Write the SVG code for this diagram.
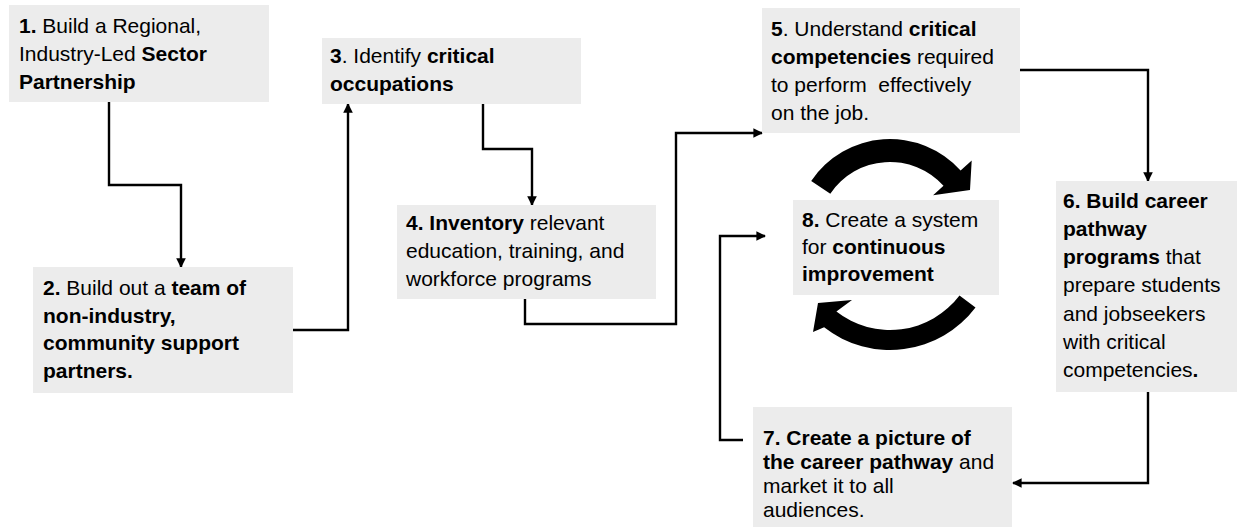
<svg xmlns="http://www.w3.org/2000/svg" width="1238" height="529" viewBox="0 0 1238 529">
<style>
.box{fill:#ececec;}
text{font-family:"Liberation Sans",Arial,sans-serif;font-size:21px;fill:#000;}
.b{font-weight:bold;}
.pre{white-space:pre;}
.c{fill:none;stroke:#000;stroke-width:2.4;}
.circ{fill:#000;}
</style>
<defs>
<marker id="ah" viewBox="0 0 10 10" refX="9" refY="5" markerWidth="4" markerHeight="4" markerUnits="strokeWidth" orient="auto">
<path d="M0,0 L10,5 L0,10 Z" fill="#000"/>
</marker>
</defs>
<g id="connectors">
<path class="c" d="M109,102 V185 H181 V267" marker-end="url(#ah)"/>
<path class="c" d="M293,330 H348 V104" marker-end="url(#ah)"/>
<path class="c" d="M483,104 V149 H532 V205" marker-end="url(#ah)"/>
<path class="c" d="M525,299 V324 H676 V133 H762" marker-end="url(#ah)"/>
<path class="c" d="M1020,70 H1148 V181" marker-end="url(#ah)"/>
<path class="c" d="M1148,392 V483 H1013" marker-end="url(#ah)"/>
<path class="c" d="M743,440 H720 V236 H765" marker-end="url(#ah)"/>
</g>
<g id="cycle">
<path class="circ" d="M811.2,180.9 A95,95 0 0 1 960.6,170.4 L971.7,160.4 L970,190 L933.1,195.2 L943.5,185.8 A72,72 0 0 0 830.3,193.7 Z"/>
<path class="circ" d="M975.5,307.4 A107,107 0 0 1 824.1,327.3 L813,332 L818,303 L852,300 L836.4,311.6 A87,87 0 0 0 959.5,295.4 Z"/>
</g>
<g id="node1">
<rect class="box" x="9" y="5" width="260" height="97"/>
<text x="19" y="33"><tspan class="b">1.</tspan> Build a Regional,</text>
<text x="19" y="61">Industry-Led <tspan class="b">Sector</tspan></text>
<text x="19" y="89" class="b">Partnership</text>
</g>
<g id="node2">
<rect class="box" x="33" y="267" width="260" height="126"/>
<text x="43" y="295"><tspan class="b">2.</tspan> Build out a <tspan class="b">team of</tspan></text>
<text x="43" y="322.5" class="b">non-industry,</text>
<text x="43" y="350" class="b">community support</text>
<text x="43" y="377.5" class="b">partners.</text>
</g>
<g id="node3">
<rect class="box" x="322" y="38" width="259" height="66"/>
<text x="330" y="63"><tspan class="b">3</tspan>. Identify <tspan class="b">critical</tspan></text>
<text x="330" y="91" class="b">occupations</text>
</g>
<g id="node4">
<rect class="box" x="397" y="205" width="259" height="94"/>
<text x="406" y="230"><tspan class="b">4. Inventory</tspan> relevant</text>
<text x="406" y="258">education, training, and</text>
<text x="406" y="286">workforce programs</text>
</g>
<g id="node5">
<rect class="box" x="762" y="8" width="258" height="125"/>
<text x="771" y="36"><tspan class="b">5</tspan>. Understand <tspan class="b">critical</tspan></text>
<text x="771" y="64"><tspan class="b">competencies</tspan> required</text>
<text x="771" y="92" class="pre">to perform  effectively</text>
<text x="771" y="120">on the job.</text>
</g>
<g id="node6">
<rect class="box" x="1056" y="181" width="181" height="211"/>
<text x="1063" y="208" class="b">6. Build career</text>
<text x="1063" y="236" class="b">pathway</text>
<text x="1063" y="264"><tspan class="b">programs</tspan> that</text>
<text x="1063" y="292">prepare students</text>
<text x="1063" y="320.5">and jobseekers</text>
<text x="1063" y="349">with critical</text>
<text x="1063" y="377">competencies<tspan class="b">.</tspan></text>
</g>
<g id="node7">
<rect class="box" x="753" y="407" width="259" height="120"/>
<text x="763" y="445" class="b">7. Create a picture of</text>
<text x="763" y="469"><tspan class="b">the career pathway</tspan> and</text>
<text x="763" y="493">market it to all</text>
<text x="763" y="517">audiences.</text>
</g>
<g id="node8">
<rect class="box" x="793" y="200" width="206" height="95"/>
<text x="802" y="227"><tspan class="b">8.</tspan> Create a system</text>
<text x="802" y="254">for <tspan class="b">continuous</tspan></text>
<text x="802" y="281" class="b">improvement</text>
</g>
</svg>
